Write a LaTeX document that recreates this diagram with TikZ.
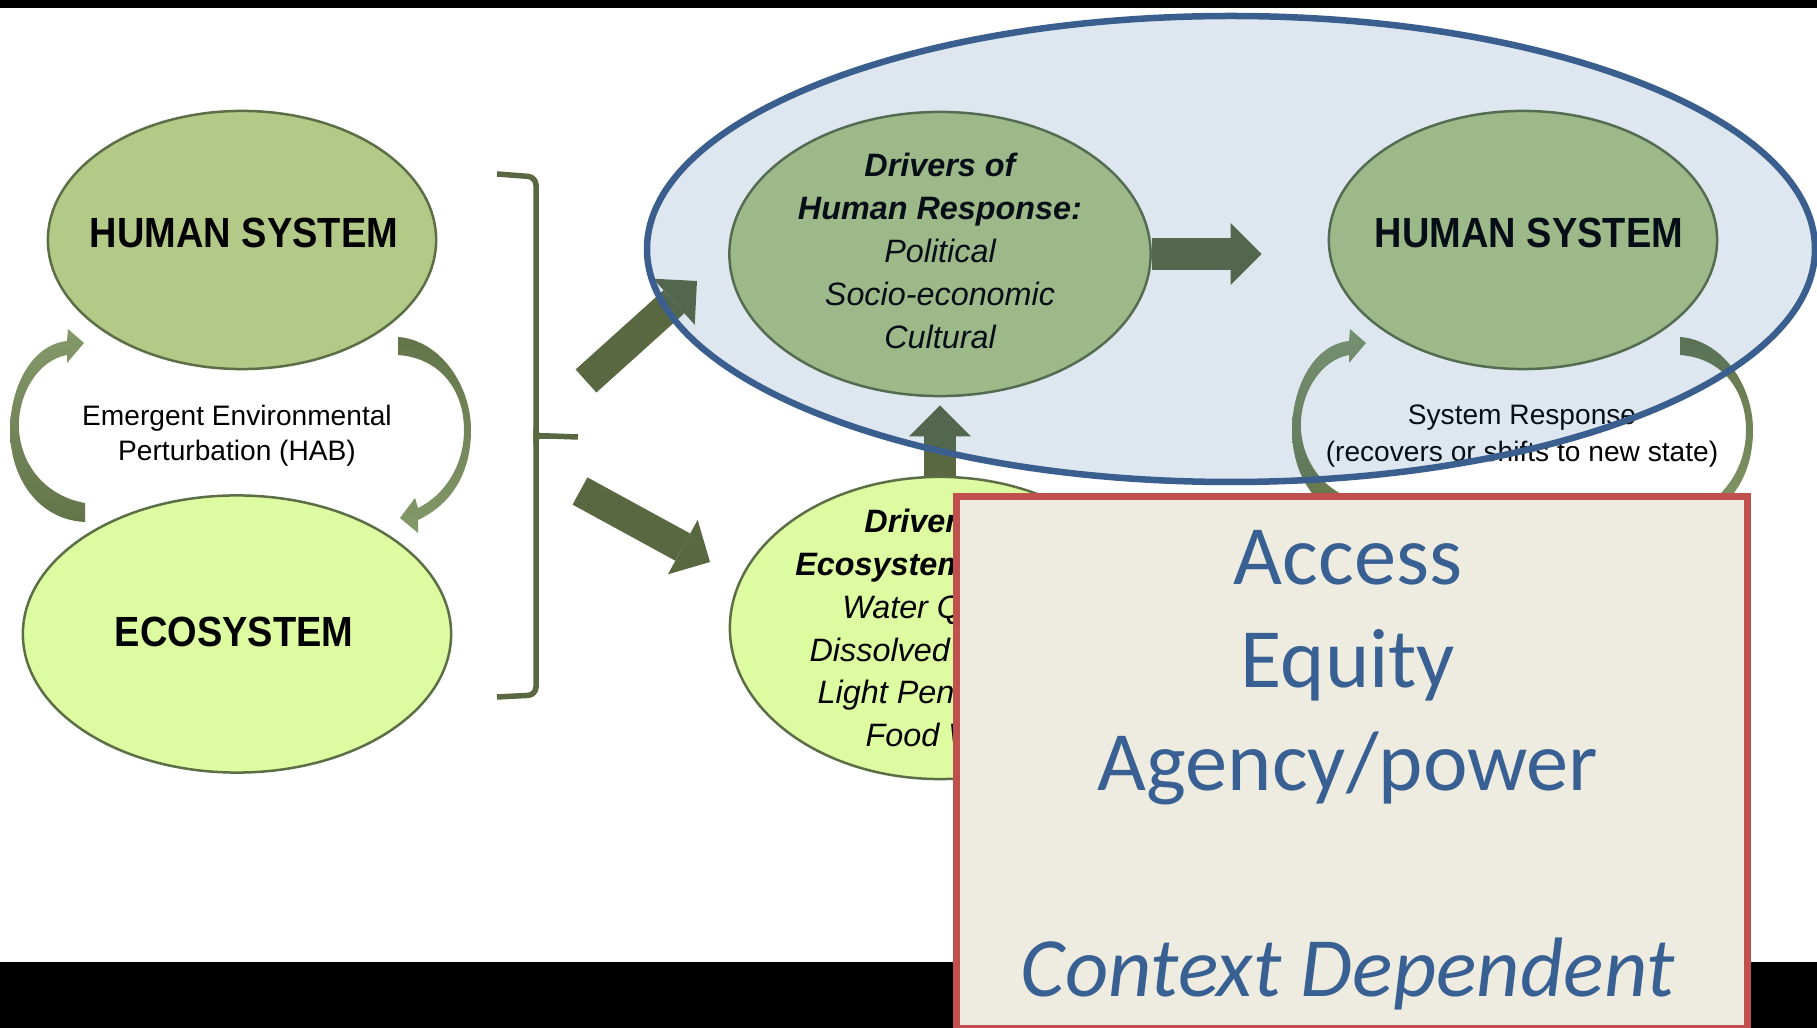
\documentclass[tikz,border=0pt]{standalone}
\usepackage{fontspec}
\setmainfont{Liberation Sans}
\newfontfamily\capsfont[FakeStretch=0.9]{Liberation Sans}
\newfontfamily\calibfont{Carlito}
\usetikzlibrary{shapes.geometric, arrows.meta}

\definecolor{humgreen}{RGB}{179,201,135}
\definecolor{ecogreen}{RGB}{221,252,161}
\definecolor{edgegreen}{RGB}{92,110,69}
\definecolor{arrowgreen}{RGB}{90,104,65}
\definecolor{curvelight}{RGB}{132,153,106}
\definecolor{curvedark}{RGB}{99,116,74}
\definecolor{bluetint}{RGB}{40,100,150}
\definecolor{blueedge}{RGB}{58,95,142}
\definecolor{boxred}{RGB}{192,80,77}
\definecolor{boxfill}{RGB}{238,235,224}
\definecolor{boxtext}{RGB}{56,96,146}

\tikzset{
  sysell/.style={ellipse, draw=edgegreen, line width=0.025cm, inner sep=0pt},
  captext/.style={font=\capsfont\bfseries\fontsize{12}{14}\selectfont, inner sep=0pt},
  drvtext/.style={font=\itshape\fontsize{9.2}{12.2}\selectfont, align=center, inner sep=0pt},
  smalltext/.style={font=\fontsize{8}{10}\selectfont, align=center, inner sep=0pt},
  fatarrow/.style={draw=arrowgreen, line width=0.31cm, -{Triangle[length=0.31cm, width=0.62cm, line width=0pt]}},
  bracestyle/.style={draw=arrowgreen, line width=0.055cm, rounded corners=0.08cm}
}

\begin{document}
\begin{tikzpicture}[x=0.01cm, y=-0.01cm]

\useasboundingbox (0,0) rectangle (1817,1028);
\fill[white] (0,0) rectangle (1817,1028);

%black bands of the slide
\fill[black] (0,0) rectangle (1817,8);
\fill[black] (0,962) rectangle (1817,1028);

%left pair: human system and ecosystem
\node[sysell, fill=humgreen, minimum width=3.88cm, minimum height=2.58cm] (hsleft) at (242,240) {};
\node[captext] (hslefttxt) at (244,233) {HUMAN SYSTEM};
\node[sysell, fill=ecogreen, minimum width=4.28cm, minimum height=2.77cm] (ecoleft) at (237,634) {};
\node[captext] (ecolefttxt) at (234,632) {ECOSYSTEM};
\node[smalltext] (perturbtxt) at (237,436) {Emergent Environmental\\Perturbation (HAB)};

%right side: drivers and the second human system
\node[sysell, fill=humgreen, minimum width=4.21cm, minimum height=2.84cm] (drvhuman) at (940,254) {};
\node[sysell, fill=ecogreen, minimum width=4.20cm, minimum height=3.02cm] (drveco) at (940,628) {};
\node[sysell, fill=humgreen, minimum width=3.88cm, minimum height=2.58cm] (hsright) at (1523,240) {};
\node[captext] (hsrighttxt) at (1529,233) {HUMAN SYSTEM};
\node[drvtext] (drvhumantxt) at (940,251) {\textbf{Drivers of}\\\textbf{Human Response:}\\Political\\Socio-economic\\Cultural};
\node[drvtext] (drvecotxt) at (940,628) {\textbf{Drivers of}\\\textbf{Ecosystem Health:}\\Water Quality\\Dissolved Oxygen\\Light Penetration\\Food Web};
\node[smalltext, font=\fontsize{8}{10.5}\selectfont] (resptxt) at (1522,436) {System Response\\(recovers or shifts to new state)};

%curved feedback arrows, same shape on both sides
\foreach \dx in {0,1282}{
  \begin{scope}[shift={(\dx,0)}]
    \shade[top color=curvelight, bottom color=curvedark] (85,503) .. controls (50,497) and (22,470) .. (19,430)
      .. controls (17,395) and (38,360) .. (67,355) -- (67,363) -- (84,343) -- (68,329) -- (67,341)
      .. controls (30,345) and (10,390) .. (10,430) .. controls (10,480) and (40,520) .. (85,522) -- cycle;
    \shade[top color=curvedark, bottom color=curvelight] (398,337) .. controls (440,340) and (471,385) .. (471,430)
      .. controls (471,475) and (450,505) .. (418,520) -- (418,533) -- (400,518) -- (415,498) -- (418,508)
      .. controls (445,495) and (464,465) .. (464,430) .. controls (464,390) and (440,358) .. (398,355) -- cycle;
  \end{scope}
}

%brace and the two block arrows leaving it
\coordinate (bracetip) at (578,437);
\draw[bracestyle] (497,174) -- (536,177) -- (536,430) to[out=-90,in=180] (550,436) -- (bracetip);
\draw[bracestyle] (550,436) to[out=180,in=90] (536,442) -- (536,695) -- (497,697);
\coordinate (upr0) at (586,381);
\coordinate (upr1) at (697,281);
\coordinate (dnr0) at (580,491);
\coordinate (dnr1) at (710,562);
\draw[fatarrow] (upr0) -- (upr1);
\draw[fatarrow] (dnr0) -- (dnr1);
\coordinate (hsgap) at ([xshift=-0.66cm]hsright.west);
\draw[fatarrow] (drvhuman.east) -- (hsgap |- drvhuman.east);
\draw[fatarrow] (drveco.north) -- ([yshift=-0.08cm]drvhuman.south);

%blue overlay round the human response
\draw[blueedge, line width=0.065cm, fill=bluetint, fill opacity=0.15] (1231,249) ellipse [x radius=584, y radius=233];

%context box
\node[draw=boxred, fill=boxfill, line width=0.07cm, minimum width=7.91cm, minimum height=5.32cm, inner sep=0pt, anchor=north west] (ctxbox) at (953,493) {};
\node[font=\calibfont\fontsize{24}{29.3}\selectfont, text=boxtext, align=center, inner sep=0pt] (ctxtxt) at (1348,770) {Access\\Equity\\Agency/power\\[29.3pt]\textit{Context Dependent}};

\end{tikzpicture}
\end{document}
